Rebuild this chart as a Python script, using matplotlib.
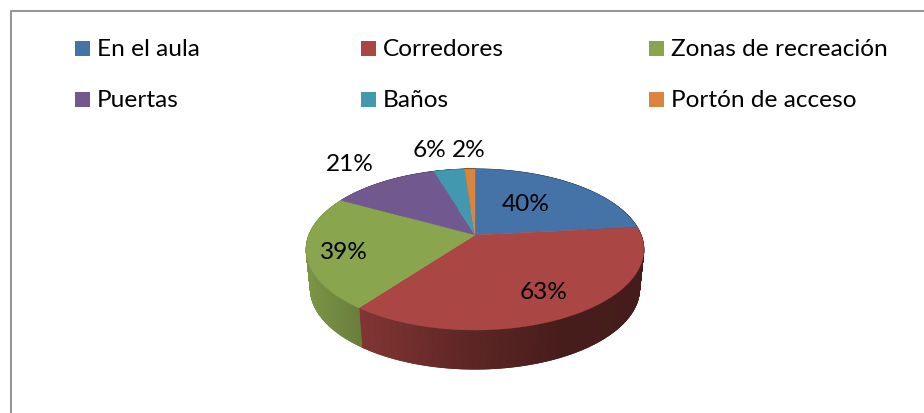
import matplotlib
matplotlib.use('Agg')
import matplotlib.pyplot as plt
from matplotlib.colors import LinearSegmentedColormap
from matplotlib.patches import Polygon, Rectangle
import numpy as np

plt.rcParams['font.family'] = ['Lato', 'DejaVu Sans']

categories = ['En el aula', 'Corredores', 'Zonas de recreación',
              'Puertas', 'Baños', 'Portón de acceso']
values = [40, 63, 39, 21, 6, 2]
colors = ['#4572A7', '#AA4643', '#89A54E', '#71588F', '#4198AF', '#DB843D']

# layout, in pixels of the 924x413 picture
cx, cy = 475, 235
rx = 166
tilt_a, tilt_c = -35.6, 0.18
depth = 39
shrink = 0.975
label_pos = [(526, 211), (544, 299), (344, 259), (350, 171), (429, 157), (469, 157)]
legend_x = [75, 361, 649]
legend_y = [48.5, 99.5]

# wall brightness going left to right
shade_x = [306, 362, 457, 560, 644]
shade_f = [0.90, 0.76, 0.57, 0.42, 0.40]


def project(theta):
    # theta runs clockwise from the top, perspective view of the unit circle
    u, v = np.sin(theta), np.cos(theta)
    d = 1 + tilt_c * v
    return cx + rx * u / d, (tilt_a * v + cy) / d


fig = plt.figure(figsize=(9.24, 4.13), dpi=100)
ax = fig.add_axes([0, 0, 1, 1])
ax.set_xlim(0, 924)
ax.set_ylim(413, 0)
ax.axis('off')

ax.plot([11, 11, 924], [413, 11, 11], color='#969696', lw=1.5)

edges = np.cumsum([0] + values) / sum(values) * 2 * np.pi

# side wall first, the top covers whatever is behind
for i, color in enumerate(colors):
    t = np.linspace(edges[i], edges[i + 1], 200)
    x, y = project(t)
    xb = cx + (x - cx) * shrink
    yb = y + depth
    f = np.interp(x, shade_x, shade_f)
    cmap = LinearSegmentedColormap.from_list('wall', ['black', color])
    ax.pcolormesh(np.vstack([x, xb]), np.vstack([y, yb]), np.vstack([f, f]),
                  cmap=cmap, vmin=0, vmax=1, shading='gouraud', zorder=1)
    # soft outer rim over the mesh's hard edge
    for k in range(len(t) - 1):
        ax.plot(xb[k:k + 2], yb[k:k + 2], color=cmap(f[k]), lw=0.8,
                solid_capstyle='butt', zorder=1.5)

for i, color in enumerate(colors):
    t = np.linspace(edges[i], edges[i + 1], 120)
    x, y = project(t)
    pts = [(cx, cy)] + list(zip(x, y))
    ax.add_patch(Polygon(pts, facecolor=color, edgecolor=color, lw=0.3, zorder=2))

for val, (lx, ly) in zip(values, label_pos):
    ax.text(lx, ly, f'{val}%', fontsize=17.6, color='black', ha='center', va='baseline')

for i, name in enumerate(categories):
    lx = legend_x[i % 3]
    ly = legend_y[i // 3]
    ax.add_patch(Rectangle((lx, ly - 7.5), 15, 15, facecolor=colors[i], edgecolor='none'))
    ax.text(lx + 22, ly + 7.5, name, fontsize=17.6, color='black', ha='left', va='baseline')

fig.savefig('out.png', dpi=100)
